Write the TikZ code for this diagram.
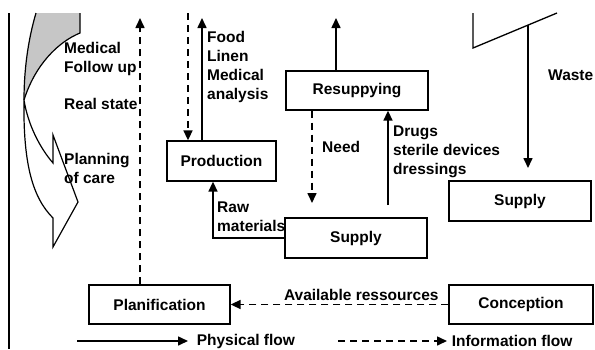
\documentclass[tikz,border=0pt]{standalone}
\usepackage{fontspec}
\setmainfont{Liberation Sans}
\usetikzlibrary{arrows.meta}

\begin{document}
\begin{tikzpicture}[x = 1pt, y = -1pt,
	 font = \fontsize{15.5}{19}\selectfont\bfseries,
	 box/.style = {draw, line width = 1.3pt, inner sep = 0pt},
	 lbl/.style = {inner sep = 0pt, anchor = west, align = left},
	 phys/.style = {line width = 1.6pt, -{Triangle[length = 10pt, width = 9pt]}},
	 info/.style = {phys, dash pattern = on 7pt off 5pt}]
	 \useasboundingbox (0, 0) rectangle (595, 349);
	 
	 \draw[line width = 1.3pt] (9, 13) -- (9, 349);
	 \fill[gray!45] (36, 13) .. controls (28, 40) and (24, 70) .. (24, 100) .. controls (35, 65) and (58, 42) .. (80, 33) -- (80, 13) -- cycle;
	 \draw[line width = 1.2pt] (36, 13) .. controls (28, 40) and (24, 70) .. (24, 100) .. controls (23, 165) and (33, 198) .. (53, 218) -- (53, 247) -- (78, 202) -- (53, 135) -- (53, 163) .. controls (40, 148) and (28, 125) .. (24, 100);
	 \draw[line width = 1.2pt] (24, 100) .. controls (35, 65) and (58, 42) .. (80, 33) -- (80, 13);
	 \draw[line width = 1.3pt] (473, 13) -- (473, 48) -- (557, 13);
	 
	 \node[box, minimum width = 109pt, minimum height = 40pt] (prod) at (221.5, 161) {Production};
	 \node[box, minimum width = 142pt, minimum height = 39pt] (resup) at (357, 90.5) {Resuppying};
	 \node[box, minimum width = 142pt, minimum height = 40pt] (supmid) at (356, 238) {Supply};
	 \node[box, minimum width = 142pt, minimum height = 40pt] (supright) at (520, 201) {Supply};
	 \node[box, minimum width = 141pt, minimum height = 39pt] (plan) at (159.5, 304.5) {Planification};
	 \node[box, minimum width = 144pt, minimum height = 39pt] (conc) at (521, 304.5) {Conception};
	 
	 \node[lbl] (follow) at (64, 58.5) {Medical\\Follow up};
	 \node[lbl] (real) at (64, 104) {Real state};
	 \node[lbl] (care) at (64, 168.5) {Planning\\of care};
	 \node[lbl] (food) at (207, 66.5) {Food\\Linen\\Medical\\analysis};
	 \node[lbl] (needlbl) at (322, 147) {Need};
	 \node[lbl] (drugslbl) at (393, 151.5) {Drugs\\sterile devices\\dressings};
	 \node[lbl] (rawlbl) at (217, 217) {Raw\\materials};
	 \node[lbl] (wastelbl) at (548, 75) {Waste};
	 
	 \coordinate (planout) at (140, 18);
	 \coordinate (prodin) at (188, 13);
	 \coordinate (prodout) at (202, 18);
	 \coordinate (rawin) at (213, 0);
	 \coordinate (resupout) at (336, 18);
	 \coordinate (need) at (312, 203);
	 \coordinate (drugs) at (388, 205);
	 \coordinate (waste) at (528, 25);
	 \coordinate (wasteend) at (528, 168);
	 
	 \draw[info] (planout |- plan.north) -- (planout);
	 \draw[info] (prodin) -- (prodin |- prod.north);
	 \draw[phys] (prodout |- prod.north) -- (prodout);
	 \draw[phys] (supmid.west) -| (rawin |- prod.south);
	 \draw[phys] (resupout |- resup.north) -- (resupout);
	 \draw[info] (need |- resup.south) -- (need);
	 \draw[phys] (drugs) -- (drugs |- resup.south);
	 \draw[phys] (waste) -- (wasteend);
	 \draw[info] (conc.west) -- (plan.east) node[pos = 0.4, above = 3pt, inner sep = 0pt] (avail) {Available ressources};
	 
	 \coordinate (physa) at (77, 341);
	 \coordinate (physb) at (188, 341);
	 \coordinate (infoa) at (338, 341);
	 \coordinate (infob) at (447, 341);
	 \draw[phys] (physa) -- (physb) node[inner sep = 0pt, anchor = west, right = 8pt] (physlbl) {Physical flow};
	 \draw[info] (infoa) -- (infob) node[inner sep = 0pt, anchor = west, right = 4pt] (infolbl) {Information flow};
\end{tikzpicture}
\end{document}
